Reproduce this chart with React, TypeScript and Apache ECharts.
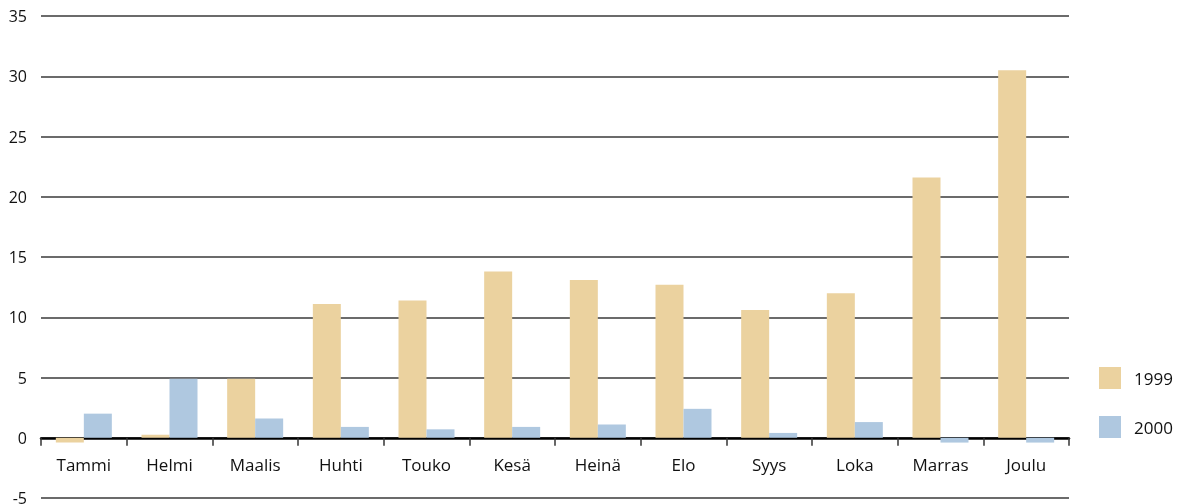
import React, { useEffect, useRef } from "react";
import * as echarts from "echarts";

const categories = ["Tammi", "Helmi", "Maalis", "Huhti", "Touko", "Kesä", "Heinä", "Elo", "Syys", "Loka", "Marras", "Joulu"];
const values1999 = [-0.4, 0.25, 4.9, 11.1, 11.4, 13.8, 13.1, 12.7, 10.6, 12.0, 21.6, 30.5];
const values2000 = [2.0, 4.9, 1.6, 0.9, 0.7, 0.9, 1.1, 2.4, 0.4, 1.3, -0.4, -0.4];
const seriesNames = ["1999", "2000"];

export default function App() {
  const ref = useRef<HTMLDivElement>(null);
  useEffect(() => {
    if (!ref.current) return;
    const chart = echarts.init(ref.current, null, { renderer: "svg" });
    const font = "'Open Sans', 'DejaVu Sans', sans-serif";
    chart.setOption({
      animation: false,
      textStyle: { fontFamily: font },
      grid: { left: 41, right: 112, top: 16, bottom: 6, containLabel: false, outerBoundsMode: "none" },
      legend: {
        orient: "vertical",
        left: 1099,
        top: 367,
        padding: 0,
        itemWidth: 22,
        itemHeight: 22,
        itemGap: 27,
        icon: "rect",
        data: seriesNames,
        textStyle: { fontSize: 17, color: "#111", fontFamily: font, padding: [2, 0, 0, 8] },
      },
      xAxis: {
        type: "category",
        data: categories,
        axisLine: { onZero: true, lineStyle: { color: "#000", width: 2.5 } },
        axisTick: { show: true, length: 8, lineStyle: { color: "#333", width: 1.5 } },
        axisLabel: { fontSize: 17, color: "#111", margin: -42, fontFamily: font, verticalAlign: "top" },
      },
      yAxis: {
        type: "value",
        min: -5,
        max: 35,
        interval: 5,
        axisLine: { show: false },
        axisTick: { show: false },
        axisLabel: { fontSize: 16, color: "#111", margin: 14, fontFamily: font },
        splitLine: { lineStyle: { color: "#3a3a3a", width: 1.5 } },
      },
      series: [
        {
          name: seriesNames[0],
          type: "bar",
          data: values1999,
          itemStyle: { color: "#EBD29F" },
          barWidth: 28,
          barGap: "0%",
        },
        {
          name: seriesNames[1],
          type: "bar",
          data: values2000,
          itemStyle: { color: "#AFC8E0" },
          barWidth: 28,
          barGap: "0%",
        },
      ],
    });
    return () => chart.dispose();
  }, []);
  return <div ref={ref} style={{ position: "fixed", left: 0, top: 0, width: 1181, height: 504 }} />;
}
